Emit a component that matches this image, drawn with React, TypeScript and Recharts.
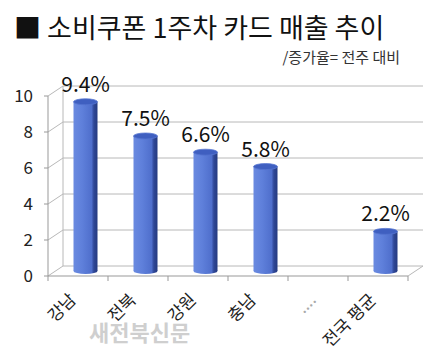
import React from 'react';
import { BarChart, Bar, XAxis, YAxis, CartesianGrid, LabelList, ReferenceArea } from 'recharts';

const regions = ['강남', '전북', '강원', '충남', '....', '전국 평균'];
const growth = [9.4, 7.5, 6.6, 5.8, null, 2.2];
const yTicks = [0, 2, 4, 6, 8, 10];

const chartData = regions.map((name, i) => ({ name, value: growth[i] }));

// 3D depth offset of the back wall
const DX = 15;
const DY = -10;
const FONT = '"Noto Sans CJK KR", "Noto Sans", sans-serif';

const GridLine = (props: any) => {
    const { x1, y1, x2, key } = props;
    return (
        <g key={key}>
            <line x1={x1} y1={y1} x2={x1 + DX} y2={y1 + DY} stroke="#b8b8b8" />
            <line x1={x1 + DX} y1={y1 + DY} x2={x2 + DX} y2={y1 + DY} stroke="#b8b8b8" />
        </g>
    );
};

const BackWall = (props: any) => {
    const { x, y, width, height } = props;
    return (
        <g>
            <line x1={x + DX} y1={y + DY} x2={x + DX} y2={y + height + DY} stroke="#b8b8b8" />
            <line x1={x + width} y1={y + height} x2={x + width + DX} y2={y + height + DY} stroke="#b8b8b8" />
        </g>
    );
};

const Cylinder = (props: any) => {
    const { x, y, width, height, index } = props;
    if (!height || height <= 0) return null;
    const bx = x + DX / 2;
    const by = y + DY / 2;
    const rx = width / 2;
    const ry = 3;
    const id = `cyl-${index}`;
    return (
        <g>
            <defs>
                <linearGradient id={id} x1="0" y1="0" x2="1" y2="0">
                    <stop offset="0%" stopColor="#6a8ae0" />
                    <stop offset="35%" stopColor="#5f80db" />
                    <stop offset="75%" stopColor="#4f6fcc" />
                    <stop offset="85%" stopColor="#2f4796" />
                    <stop offset="100%" stopColor="#243a80" />
                </linearGradient>
            </defs>
            <ellipse cx={bx + rx} cy={by + height} rx={rx} ry={ry} fill={`url(#${id})`} />
            <rect x={bx} y={by} width={width} height={height} fill={`url(#${id})`} />
            <ellipse cx={bx + rx} cy={by} rx={rx} ry={ry} fill="#3f5fc0" stroke="#5575d0" strokeWidth={0.8} />
        </g>
    );
};

const ValueLabel = (props: any) => {
    const { x, y, width, value } = props;
    if (value == null) return null;
    return (
        <text x={x + width / 2 + DX / 2} y={y + DY / 2 - 10} textAnchor="middle" fontSize={21} fill="#111" fontFamily={FONT}>
            {`${value}%`}
        </text>
    );
};

const RegionTick = (props: any) => {
    const { x, y, payload, index } = props;
    const off = payload.offset || 0;
    const dots = payload.value === '....';
    const ax = x - 1;
    const ay = y + 25;
    return (
        <g>
            <line x1={x - off} y1={y} x2={x - off} y2={y + 5} stroke="#999" />
            {index === regions.length - 1 && <line x1={x + off} y1={y} x2={x + off} y2={y + 5} stroke="#999" />}
            <text
                x={ax}
                y={ay}
                transform={`rotate(-45 ${ax} ${ay})`}
                textAnchor="end"
                fontSize={17}
                fill={dots ? '#aaa' : '#222'}
                fontFamily={FONT}
            >
                {payload.value}
            </text>
        </g>
    );
};

export default function App() {
    return (
        <div style={{ position: 'absolute', left: 0, top: 0, width: 447, height: 361, background: '#fff', fontFamily: FONT }}>
            <div style={{ position: 'absolute', left: 14, top: 11, fontSize: 27, color: '#111', whiteSpace: 'nowrap', lineHeight: '32px' }}>
                ■ 소비쿠폰 1주차 카드 매출 추이
            </div>
            <div style={{ position: 'absolute', right: 47, top: 49, fontSize: 15, color: '#333', whiteSpace: 'nowrap', lineHeight: '16px' }}>
                /증가율= 전주 대비
            </div>
            <div style={{ position: 'absolute', left: 89, top: 315, fontSize: 22, fontWeight: 700, color: '#cfcfcf', whiteSpace: 'nowrap' }}>
                새전북신문
            </div>
            <div style={{ position: 'absolute', left: 0, top: 0 }}>
                <BarChart width={447} height={361} data={chartData} margin={{ top: 96, right: 39, bottom: 0, left: 18 }}>
                    <CartesianGrid vertical={false} horizontal={GridLine} />
                    <ReferenceArea y1={0} y2={10} ifOverflow="visible" shape={BackWall} />
                    <XAxis
                        dataKey="name"
                        height={85}
                        tickLine={false}
                        tickSize={0}
                        tickMargin={0}
                        axisLine={{ stroke: '#999' }}
                        tick={RegionTick}
                        interval={0}
                    />
                    <YAxis
                        width={30}
                        domain={[0, 10]}
                        ticks={yTicks}
                        tickSize={4}
                        tickMargin={11}
                        axisLine={{ stroke: '#999' }}
                        tickLine={{ stroke: '#999' }}
                        tick={{ fontSize: 17, fill: '#222', fontFamily: FONT }}
                    />
                    <Bar dataKey="value" barSize={24} shape={Cylinder} isAnimationActive={false}>
                        <LabelList dataKey="value" content={ValueLabel} />
                    </Bar>
                </BarChart>
            </div>
        </div>
    );
}
